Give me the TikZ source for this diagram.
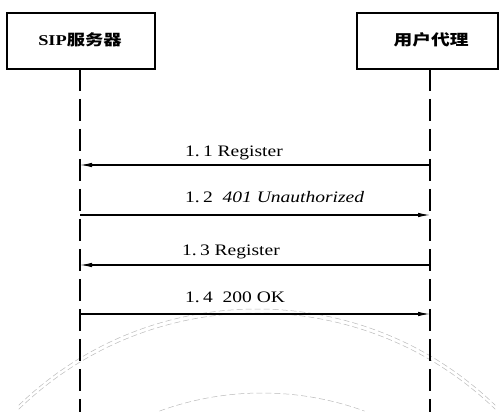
\documentclass[tikz,border=0pt]{standalone}
\usepackage{fontspec}
\usepackage{graphicx}
\setmainfont{Liberation Serif}
\newfontfamily\cjk{Noto Sans CJK SC}
\usetikzlibrary{arrows.meta}
\begin{document}
\begin{tikzpicture}[x=1pt,y=-1pt,
  actor/.style={draw,line width=1.3pt,minimum height=56pt,inner sep=0pt},
  life/.style={line width=1.2pt,dash pattern=on 22pt off 8pt},
  msg/.style={line width=1.1pt,-{Latex[length=12pt,width=4.5pt]}},
  lbl/.style={anchor=base west,inner sep=0pt,font=\fontsize{16}{18}\selectfont},
  ghost/.style={gray!55,line width=0.5pt,dash pattern=on 6pt off 3pt}]
\useasboundingbox (0,0) rectangle (499,412);
% ghost arcs (bleed-through)
\begin{scope}
\clip (0,0) rectangle (499,412);
\draw[ghost] (257,652) ++(-134:343) arc[start angle=-134,end angle=-46,radius=343];
\draw[ghost] (257,656) ++(-134:343) arc[start angle=-134,end angle=-46,radius=343];
\draw[ghost] (262,693) ++(-110:300) arc[start angle=-110,end angle=-70,radius=300];
\end{scope}
% actors
\node[actor,minimum width=148pt] (srv) at (81,41) {};
\node[actor,minimum width=141pt] (ua) at (427.5,41) {};
\node[inner sep=0pt] (srvt) at (80,40) {\scalebox{1.22}[1]{\fontsize{15}{17}\selectfont\bfseries SIP\cjk 服务器}};
\node[inner sep=0pt] (uat) at (431,40) {\scalebox{1.25}[1]{\fontsize{15}{17}\selectfont\bfseries\cjk 用户代理}};
% lifelines
\coordinate (sTop) at (80,69);
\coordinate (sBot) at (80,412);
\coordinate (uTop) at (430,69);
\coordinate (uBot) at (430,412);
\draw[life] (sTop) -- (sBot);
\draw[life] (uTop) -- (uBot);
% messages
\coordinate (u1) at (430,165); \coordinate (s1) at (80,165);
\coordinate (s2) at (80,215); \coordinate (u2) at (430,215);
\coordinate (u3) at (430,265); \coordinate (s3) at (80,265);
\coordinate (s4) at (80,314); \coordinate (u4) at (430,314);
\draw[msg] (u1) -- (s1);
\draw[msg] (s2) -- (u2);
\draw[msg] (u3) -- (s3);
\draw[msg] (s4) -- (u4);
\node[lbl] (l1) at (185,157) {\scalebox{1.22}[1]{1.\,1 Register}};
\node[lbl] (l2) at (185,203) {\scalebox{1.22}[1]{1.\,2\enspace\textit{401 Unauthorized}}};
\node[lbl] (l3) at (182,255) {\scalebox{1.22}[1]{1.\,3 Register}};
\node[lbl] (l4) at (185,302) {\scalebox{1.22}[1]{1.\,4\enspace 200 OK}};
\end{tikzpicture}
\end{document}
